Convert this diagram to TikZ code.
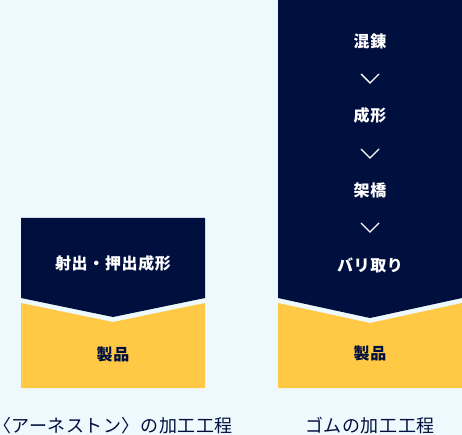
\documentclass[tikz,border=0pt]{standalone}
\usepackage{fontspec}
\newfontfamily\jp{Noto Sans CJK JP}[LetterSpace=4]
\newfontfamily\jpcap{Noto Sans CJK JP}[LetterSpace=3]
\definecolor{navy}{HTML}{00103E}
\definecolor{gold}{HTML}{FFC845}
\definecolor{bg}{HTML}{EEF9FD}
\begin{document}
\begin{tikzpicture}[x=1pt,y=-1pt,
  steptext/.style={text=white,font=\jp\bfseries\fontsize{16}{19}\selectfont,inner sep=0pt},
  prodtext/.style={text=navy,font=\jp\bfseries\fontsize{16}{19}\selectfont,inner sep=0pt},
  captext/.style={text=navy,font=\jpcap\fontsize{18}{22}\selectfont,inner sep=0pt},
  chev/.style={draw=white,line width=1.4pt}]
\fill[bg] (0,0) rectangle (462,435);
\useasboundingbox (0,0) rectangle (462,435);
% left column
\fill[navy] (21,218) -- (205,218) -- (205,298) -- (113,317) -- (21,298) -- cycle;
\fill[gold] (21,303) -- (113,322) -- (205,303) -- (205,388) -- (21,388) -- cycle;
\node[steptext] (l1) at (113,263) {射出・押出成形};
\node[prodtext] (lp) at (113,354) {製品};
\node[captext] (lc) at (113,426) {〈アーネストン〉の加工工程};
% right column
\fill[navy] (278,0) -- (462,0) -- (462,298) -- (370,318) -- (278,298) -- cycle;
\fill[gold] (278,303) -- (370,323) -- (462,303) -- (462,388) -- (278,388) -- cycle;
\node[steptext] (r1) at (370,41) {混錬};
\node[steptext] (r2) at (370,115) {成形};
\node[steptext] (r3) at (370,190) {架橋};
\node[steptext] (r4) at (370,265) {バリ取り};
\node[prodtext] (rp) at (370,353) {製品};
\node[captext] (rc) at (370,426) {ゴムの加工工程};
\foreach \y in {74,149,223}{
  \draw[chev] (361,\y) -- (370,\y+9) -- (379,\y);
}
\end{tikzpicture}
\end{document}
